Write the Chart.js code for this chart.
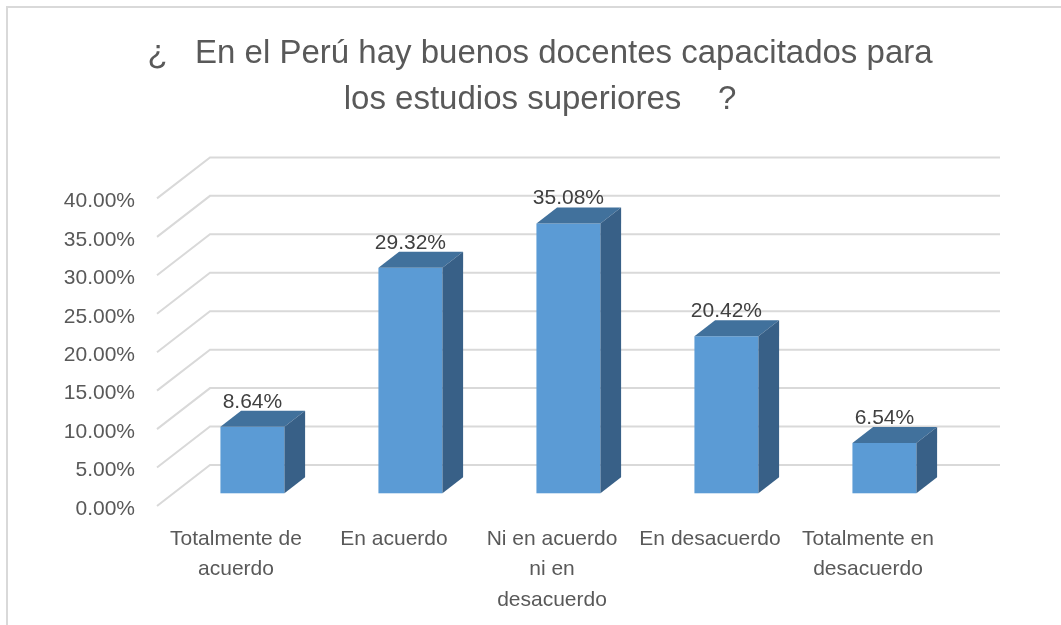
<!DOCTYPE html>
<html>
<head>
<meta charset="utf-8">
<script src="https://cdn.jsdelivr.net/npm/chart.js@4/dist/chart.umd.min.js"></script>
<style>
  html, body { margin: 0; padding: 0; background: #fff; }
</style>
</head>
<body>
<canvas id="chart" width="1061" height="625"></canvas>
<script>
// chart data
const categories = [
  ['Totalmente de', 'acuerdo'],
  ['En acuerdo'],
  ['Ni en acuerdo', 'ni en', 'desacuerdo'],
  ['En desacuerdo'],
  ['Totalmente en', 'desacuerdo']
];
const percents = [8.64, 29.32, 35.08, 20.42, 6.54];
const titleLines = ['¿   En el Perú hay buenos docentes capacitados para', 'los estudios superiores    ?'];
const yMin = 0, yMax = 40, yStep = 5;

const FONT = "'Liberation Sans', Arial, sans-serif";

// perspective offset of the back wall, and where the bars sit in the depth
const depth = { dx: 53, dy: -41, front: 0.31, back: 0.70 };

const box3d = {
  id: 'box3d',
  beforeDraw(chart) {
    const ctx = chart.ctx;
    ctx.save();
    ctx.strokeStyle = '#d9d9d9';
    ctx.lineWidth = 2;
    ctx.beginPath();
    ctx.moveTo(7, chart.height);
    ctx.lineTo(7, 7);
    ctx.lineTo(chart.width, 7);
    ctx.stroke();
    ctx.restore();
  },
  beforeDatasetsDraw(chart) {
    const { ctx, chartArea, scales } = chart;
    const y = scales.y;
    ctx.save();

    // gridlines: floor diagonal + back wall
    ctx.strokeStyle = '#d9d9d9';
    ctx.lineWidth = 2;
    y.ticks.forEach(t => {
      const py = y.getPixelForValue(t.value);
      ctx.beginPath();
      ctx.moveTo(chartArea.left, py);
      ctx.lineTo(chartArea.left + depth.dx, py + depth.dy);
      ctx.lineTo(chartArea.right + depth.dx, py + depth.dy);
      ctx.stroke();
    });

    // bars
    const meta = chart.getDatasetMeta(0);
    const ox = depth.dx * depth.front, oy = depth.dy * depth.front;
    const bw = depth.dx * (depth.back - depth.front), bh = depth.dy * (depth.back - depth.front);
    meta.data.forEach((bar, i) => {
      const p = bar.getProps(['x', 'y', 'base', 'width'], true);
      const l = p.x - p.width / 2 + ox, r = p.x + p.width / 2 + ox;
      const t = p.y + oy, b = p.base + oy;

      ctx.fillStyle = '#5b9bd5';
      ctx.fillRect(l, t, r - l, b - t);

      ctx.fillStyle = '#41719c';
      ctx.beginPath();
      ctx.moveTo(l, t);
      ctx.lineTo(l + bw, t + bh);
      ctx.lineTo(r + bw, t + bh);
      ctx.lineTo(r, t);
      ctx.closePath();
      ctx.fill();

      ctx.fillStyle = '#386087';
      ctx.beginPath();
      ctx.moveTo(r, t);
      ctx.lineTo(r + bw, t + bh);
      ctx.lineTo(r + bw, b + bh);
      ctx.lineTo(r, b);
      ctx.closePath();
      ctx.fill();

      // value label
      ctx.fillStyle = '#404040';
      ctx.font = '21px ' + FONT;
      ctx.textAlign = 'center';
      ctx.textBaseline = 'middle';
      ctx.fillText(percents[i].toFixed(2) + '%', (l + r) / 2, t + bh - 9);
    });
    ctx.restore();
  }
};

new Chart(document.getElementById('chart').getContext('2d'), {
  type: 'bar',
  data: {
    labels: categories,
    datasets: [{
      data: percents,
      backgroundColor: 'rgba(0,0,0,0)',
      borderWidth: 0,
      categoryPercentage: 1,
      barPercentage: 0.405
    }]
  },
  options: {
    responsive: false,
    animation: false,
    layout: { padding: { left: 19, right: 0, top: 0, bottom: 0 } },
    plugins: {
      legend: { display: false },
      tooltip: { enabled: false },
      title: {
        display: true,
        text: titleLines,
        color: '#595959',
        font: { family: FONT, size: 33, weight: 'normal', lineHeight: 1.4 },
        padding: { top: 31, bottom: 75 }
      }
    },
    scales: {
      x: {
        grid: { display: false },
        border: { display: false },
        ticks: {
          color: '#595959',
          font: { family: FONT, size: 21, lineHeight: 1.45 },
          padding: 10,
          maxRotation: 0,
          autoSkip: false
        },
        afterFit(scale) { scale.height = 119; }
      },
      y: {
        min: yMin,
        max: yMax,
        grid: { display: false },
        border: { display: false },
        ticks: {
          stepSize: yStep,
          color: '#595959',
          font: { family: FONT, size: 21 },
          padding: 14,
          labelOffset: 3,
          callback: v => v.toFixed(2) + '%'
        },
        afterFit(scale) { scale.width = 138; }
      },
      // empty right-hand axis: keeps the plot clear of the back wall's right part
      yRight: {
        position: 'right',
        grid: { display: false },
        border: { display: false },
        ticks: { display: false },
        afterFit(scale) { scale.width = 114; }
      }
    }
  },
  plugins: [box3d]
});
</script>
</body>
</html>
